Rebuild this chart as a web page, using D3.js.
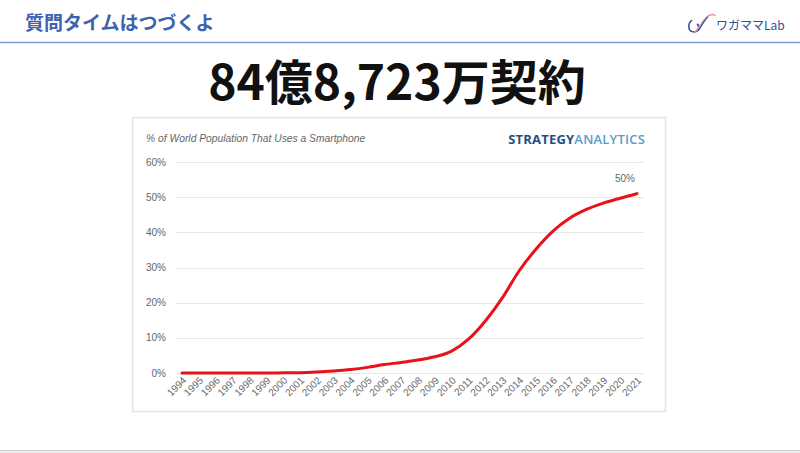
<!DOCTYPE html>
<html>
<head>
<meta charset="utf-8">
<script src="https://cdn.jsdelivr.net/npm/d3@7"></script>
<style>
  html, body { margin: 0; padding: 0; background: #fff; }
  svg { display: block; }
</style>
</head>
<body>
<svg id="chart" width="800" height="453"></svg>
<script>
// Smartphone penetration (% of world population)
const years = [1994, 1995, 1996, 1997, 1998, 1999, 2000, 2001, 2002, 2003, 2004, 2005, 2006, 2007,
               2008, 2009, 2010, 2011, 2012, 2013, 2014, 2015, 2016, 2017, 2018, 2019, 2020, 2021];
const share = [0, 0, 0, 0, 0, 0, 0.05, 0.1, 0.3, 0.6, 1.0, 1.6, 2.4, 3.0,
               3.7, 4.6, 6.2, 9.6, 14.8, 21.3, 29.0, 35.2, 40.3, 44.0, 46.5, 48.3, 49.7, 51.0];
const yTicks = [0, 10, 20, 30, 40, 50, 60];

const pageTitle = '質問タイムはつづくよ';
const headline = '84億8,723万契約';
const chartTitle = '% of World Population That Uses a Smartphone';
const endLabel = '50%';

const svg = d3.select('#chart');
const jp = '"Noto Sans CJK JP", "Noto Sans", sans-serif';
const sans = '"Liberation Sans", Arial, sans-serif';

// ---- page header ----
svg.append('text')
    .attr('x', 25).attr('y', 30)
    .style('font-family', jp).style('font-size', '19px').style('font-weight', 'bold')
    .style('fill', '#3c62b0')
    .text(pageTitle);

svg.append('line')
    .attr('x1', 0).attr('x2', 800).attr('y1', 42.5).attr('y2', 42.5)
    .style('stroke', '#7e9ddb').style('stroke-width', 1.5);

// logo: little swirl + name
const logo = svg.append('g').attr('transform', 'translate(686, 12)');
logo.append('path')
    .attr('d', 'M6,8 C1,12 2,20 8,20 C13,20 14,14 11,12')
    .style('fill', 'none').style('stroke', '#2e4f9e').style('stroke-width', 1.6);
logo.append('path')
    .attr('d', 'M8,21 C14,16 17,6 24,3 C27,2 29,3 29,4')
    .style('fill', 'none').style('stroke', '#e59aa8').style('stroke-width', 1.6);
logo.append('path')
    .attr('d', 'M12,19 C16,14 18,8 22,5')
    .style('fill', 'none').style('stroke', '#2e4f9e').style('stroke-width', 1.2);
svg.append('text')
    .attr('x', 716).attr('y', 30)
    .style('font-family', jp).style('font-size', '12px')
    .style('fill', '#2d4f9c')
    .text('ワガママLab');

// ---- headline ----
svg.append('text')
    .attr('x', 397).attr('y', 100)
    .attr('text-anchor', 'middle')
    .style('font-family', jp).style('font-size', '48px').style('font-weight', 'bold')
    .style('fill', '#111')
    .text(headline);

// ---- chart card ----
svg.append('rect')
    .attr('x', 132.5).attr('y', 117.5).attr('width', 533).attr('height', 294)
    .style('fill', '#fff').style('stroke', '#e4e4e4').style('stroke-width', 1.5);

svg.append('text')
    .attr('x', 146).attr('y', 142)
    .style('font-family', sans).style('font-size', '10.3px').style('font-style', 'italic')
    .style('fill', '#666')
    .text(chartTitle);

const brand = svg.append('text')
    .attr('x', 645).attr('y', 144)
    .attr('text-anchor', 'end')
    .style('font-family', '"Open Sans", sans-serif').style('font-size', '13px')
    .style('font-weight', 'bold').style('letter-spacing', '0.2px');
brand.append('tspan').style('fill', '#1f4f86').text('STRATEGY');
brand.append('tspan').style('fill', '#5a9cc8').style('font-weight', '600').text('ANALYTICS');

// ---- plot ----
const x = d3.scaleLinear().domain([1994, 2021]).range([182, 637]);
const y = d3.scaleLinear().domain([0, 60]).range([373, 162]);

const grid = svg.append('g');
grid.selectAll('line')
    .data(yTicks)
    .enter()
    .append('line')
    .attr('x1', 176).attr('x2', 644)
    .attr('y1', d => Math.round(y(d)) + 0.5).attr('y2', d => Math.round(y(d)) + 0.5)
    .style('stroke', '#e6e6e6').style('stroke-width', 1);

grid.selectAll('text')
    .data(yTicks)
    .enter()
    .append('text')
    .attr('x', 166).attr('y', d => y(d) + 3.5)
    .attr('text-anchor', 'end')
    .style('font-family', sans).style('font-size', '10px')
    .style('fill', '#666')
    .text(d => d + '%');

svg.append('g')
    .selectAll('text')
    .data(years)
    .enter()
    .append('text')
    .attr('transform', d => `translate(${x(d) + 5}, 381) rotate(-45)`)
    .attr('text-anchor', 'end')
    .style('font-family', sans).style('font-size', '10px')
    .style('fill', '#6a6a6a')
    .text(d => d);

const line = d3.line()
    .x((d, i) => x(years[i]))
    .y(d => y(d))
    .curve(d3.curveMonotoneX);

svg.append('path')
    .datum(share)
    .attr('d', line)
    .style('fill', 'none')
    .style('stroke', '#e8121b')
    .style('stroke-width', 3)
    .style('stroke-linecap', 'round');

svg.append('text')
    .attr('x', x(2021) - 2).attr('y', 182)
    .attr('text-anchor', 'end')
    .style('font-family', sans).style('font-size', '10px')
    .style('fill', '#666')
    .text(endLabel);

// ---- footer rule ----
svg.append('rect')
    .attr('x', 0).attr('y', 450).attr('width', 800).attr('height', 3)
    .style('fill', '#ececec');
svg.append('line')
    .attr('x1', 0).attr('x2', 800).attr('y1', 450.5).attr('y2', 450.5)
    .style('stroke', '#cfcfcf');
</script>
</body>
</html>
